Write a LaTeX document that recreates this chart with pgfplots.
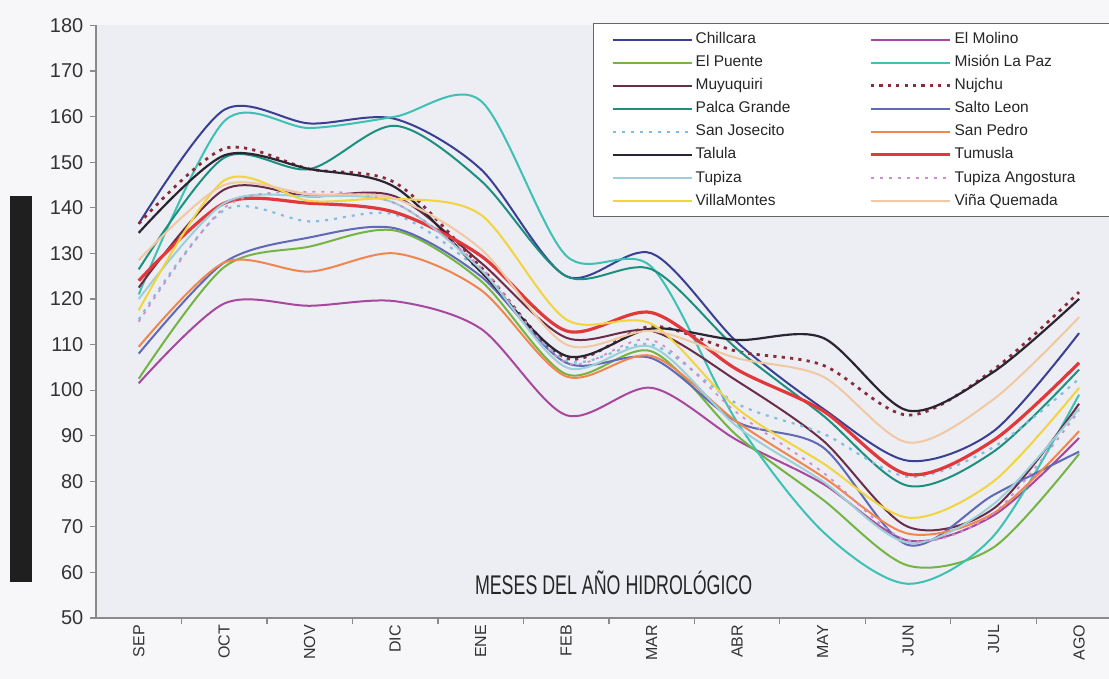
\documentclass[border=0pt]{standalone}
\usepackage{fontspec}
\setmainfont{Liberation Sans}
\usepackage{graphicx}
\usepackage{pgfplots}
\usepackage{pgfplotstable}
\pgfplotsset{compat=1.18}
\usetikzlibrary{backgrounds}

\definecolor{plotbg}{HTML}{ECEEF3}
\definecolor{pagebg}{HTML}{F7F7F9}
\definecolor{axgray}{HTML}{8A8A8A}
\definecolor{cChill}{HTML}{3B3F94}
\definecolor{cMolino}{HTML}{A8479E}
\definecolor{cPuente}{HTML}{74B443}
\definecolor{cMision}{HTML}{3CC1B4}
\definecolor{cMuyu}{HTML}{6A2C48}
\definecolor{cNujchu}{HTML}{8B2C3A}
\definecolor{cPalca}{HTML}{1D8F7F}
\definecolor{cSalto}{HTML}{6068B8}
\definecolor{cJose}{HTML}{80BDE0}
\definecolor{cPedro}{HTML}{F2854D}
\definecolor{cTalula}{HTML}{2C2430}
\definecolor{cTumusla}{HTML}{E2383C}
\definecolor{cTupiza}{HTML}{9CCFD8}
\definecolor{cAngos}{HTML}{CC8FC8}
\definecolor{cVilla}{HTML}{F2D43C}
\definecolor{cVina}{HTML}{F2C8A2}

% caudales medios mensuales, SEP ... AGO (x = 0 ... 11)
\pgfplotstableread{
x Chill Molino Puente Mision Muyu Nujchu Palca Salto Jose Pedro Talula Tumusla Tupiza Angos Villa Vina
0  136.5 101.5 102.5 121.0 122.5 136.5 126.5 108.0 115.5 109.5 134.5 124.0 120.0 115.0 117.5 128.5
1  161.5 119.0 127.0 159.0 144.0 153.0 151.0 128.0 139.5 128.0 151.5 141.0 141.0 140.0 146.0 145.0
2  158.5 118.5 131.5 157.5 142.5 148.5 148.5 133.5 137.0 126.0 148.5 141.0 142.5 143.5 141.5 143.0
3  159.5 119.5 135.0 160.0 142.5 145.5 158.0 135.5 138.5 130.0 144.5 139.0 141.0 141.0 142.0 142.0
4  148.5 113.5 124.0 163.5 128.0 127.0 146.0 125.0 126.0 122.0 126.0 129.5 126.5 127.0 138.5 131.0
5  125.0  94.5 103.5 129.5 111.5 107.0 125.0 106.0 106.5 103.0 107.5 113.0 105.0 106.0 115.5 110.0
6  130.0 100.5 108.5 127.0 113.0 114.0 126.5 107.0 110.0 107.5 113.5 117.0 109.5 111.0 114.5 113.0
7  110.5  89.0  90.0  93.0 102.0 108.5 109.0  93.0  97.0  93.0 111.0 104.5  92.0  95.0  96.0 107.0
8   96.0  79.5  76.0  69.0  89.0 105.5  94.5  87.5  90.5  81.0 111.5  95.5  80.0  82.0  84.0 103.0
9   84.5  67.0  61.5  57.5  70.0  94.5  79.0  66.0  81.0  68.5  95.5  81.5  66.5  67.0  72.0  88.5
10  91.0  72.5  65.5  68.0  74.0 104.5  86.5  77.0  87.5  73.0 104.0  89.0  75.0  73.0  80.0  98.0
11 112.5  89.5  86.0  99.0  97.0 121.5 104.5  86.5 102.5  91.0 120.0 106.0  96.0  95.5 100.5 116.0
}\datos

\begin{document}
\begin{tikzpicture}
\begin{axis}[
  scale only axis, width=506.5pt, height=296.25pt,
  xmin=-0.5, xmax=11.35, ymin=50, ymax=180,
  axis lines*=left,
  axis line style={draw=axgray, line width=0.6pt},
  axis background/.style={fill=plotbg},
  ytick={50,60,...,180},
  xtick={0.5,1.5,...,10.5}, xticklabels={},
  extra x ticks={0,...,11},
  extra x tick labels={SEP,OCT,NOV,DIC,ENE,FEB,MAR,ABR,MAY,JUN,JUL,AGO},
  extra x tick style={major tick length=0pt},
  tick align=outside, major tick length=2.8pt,
  tick style={draw=axgray, line width=0.6pt},
  /pgf/number format/assume math mode=true,
  yticklabel style={font=\fontsize{10}{12}\selectfont, text=black!80},
  xticklabel style={font=\fontsize{8}{10}\selectfont, rotate=90, anchor=east, text=black!80},
  every axis plot/.append style={smooth, line width=1pt},
  legend columns=2,
  legend cell align=left,
  legend image code/.code={\draw[#1] (0pt,0pt) -- (39.5pt,0pt);},
  legend style={at={(rel axis cs:0.4906,1.004)}, anchor=north west,
    draw=black!60, fill=white, line width=0.5pt,
    font=\fontsize{7.75}{9}\selectfont, text=black!85,
    inner xsep=9pt, inner ysep=3pt, row sep=1.6pt,
    /tikz/every even column/.append style={column sep=38pt},
    nodes={inner xsep=1.5pt, inner ysep=1.4pt}},
]
\addplot[cChill] table[x=x, y=Chill] {\datos};
\addlegendentry{Chillcara}
\addplot[cMolino] table[x=x, y=Molino] {\datos};
\addlegendentry{El Molino}
\addplot[cPuente] table[x=x, y=Puente] {\datos};
\addlegendentry{El Puente}
\addplot[cMision] table[x=x, y=Mision] {\datos};
\addlegendentry{Misión La Paz}
\addplot[cMuyu] table[x=x, y=Muyu] {\datos};
\addlegendentry{Muyuquiri}
\addplot[cNujchu, line width=1.4pt, dash pattern=on 1.6pt off 2.6pt] table[x=x, y=Nujchu] {\datos};
\addlegendentry{Nujchu}
\addplot[cPalca] table[x=x, y=Palca] {\datos};
\addlegendentry{Palca Grande}
\addplot[cSalto] table[x=x, y=Salto] {\datos};
\addlegendentry{Salto Leon}
\addplot[cJose, line width=1.1pt, dash pattern=on 1.5pt off 3pt] table[x=x, y=Jose] {\datos};
\addlegendentry{San Josecito}
\addplot[cPedro] table[x=x, y=Pedro] {\datos};
\addlegendentry{San Pedro}
\addplot[cTalula, line width=1.1pt] table[x=x, y=Talula] {\datos};
\addlegendentry{Talula}
\addplot[cTumusla, line width=1.6pt] table[x=x, y=Tumusla] {\datos};
\addlegendentry{Tumusla}
\addplot[cTupiza] table[x=x, y=Tupiza] {\datos};
\addlegendentry{Tupiza}
\addplot[cAngos, line width=0.9pt, dash pattern=on 1.5pt off 3pt] table[x=x, y=Angos] {\datos};
\addlegendentry{Tupiza Angostura\phantom{MM}}
\addplot[cVilla] table[x=x, y=Villa] {\datos};
\addlegendentry{VillaMontes}
\addplot[cVina] table[x=x, y=Vina] {\datos};
\addlegendentry{Viña Quemada}

\node[text=black!85] at (rel axis cs:0.511,0.059)
  {\scalebox{0.66}[1]{\fontsize{13.5}{14}\selectfont MESES DEL AÑO HIDROLÓGICO}};
\coordinate (plotSW) at (rel axis cs:0,0);
\coordinate (plotNE) at (rel axis cs:1,1);
\end{axis}
\fill[black!88] ([xshift=-43pt,yshift=18pt]plotSW) rectangle ([xshift=-32pt,yshift=211pt]plotSW);
\begin{pgfonlayer}{background}
\fill[pagebg] ([xshift=-48pt,yshift=-30.5pt]plotSW) rectangle ([yshift=12.75pt]plotNE);
\end{pgfonlayer}
\pgfresetboundingbox
\path[use as bounding box] ([xshift=-48pt,yshift=-30.5pt]plotSW) rectangle ([yshift=12.75pt]plotNE);
\end{tikzpicture}
\end{document}
